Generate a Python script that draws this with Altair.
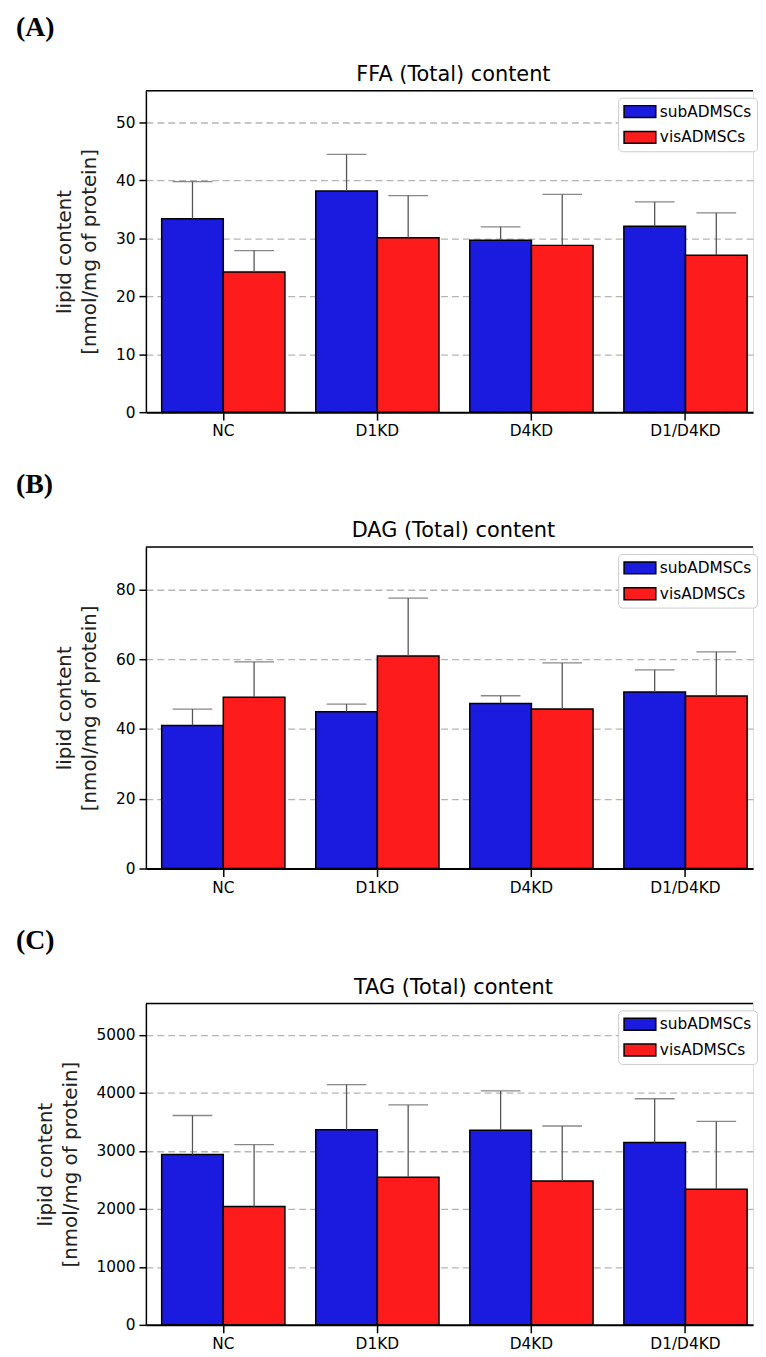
import altair as alt
import pandas as pd

categories = ["NC", "D1KD", "D4KD", "D1/D4KD"]
groups = ["subADMSCs", "visADMSCs"]
bar_colors = ["#1b1bdf", "#fe1b1b"]

# FFA (Total) content
ffa_sub = [33.4, 38.2, 29.7, 32.1]
ffa_sub_err = [6.4, 6.3, 2.3, 4.2]
ffa_vis = [24.2, 30.1, 28.8, 27.1]
ffa_vis_err = [3.7, 7.3, 8.8, 7.3]
ffa_ticks = [0, 10, 20, 30, 40, 50]

# DAG (Total) content
dag_sub = [41.0, 44.9, 47.3, 50.6]
dag_sub_err = [4.7, 2.2, 2.2, 6.3]
dag_vis = [49.1, 60.9, 45.7, 49.4]
dag_vis_err = [10.1, 16.6, 13.2, 12.7]
dag_ticks = [0, 20, 40, 60, 80]

# TAG (Total) content
tag_sub = [2937, 3367, 3356, 3146]
tag_sub_err = [674, 777, 680, 754]
tag_vis = [2041, 2545, 2483, 2341]
tag_vis_err = [1066, 1248, 947, 1168]
tag_ticks = [0, 1000, 2000, 3000, 4000, 5000]

W = 612
H = 324
Y_TITLE = ["lipid content", "[nmol/mg of protein]"]


def panel(letter, title, sub, sub_err, vis, vis_err, ymax, ticks):
    rows = []
    for i, c in enumerate(categories):
        rows.append({"category": c, "group": groups[0], "value": sub[i], "upper": sub[i] + sub_err[i]})
        rows.append({"category": c, "group": groups[1], "value": vis[i], "upper": vis[i] + vis_err[i]})
    df = pd.DataFrame(rows)
    base = alt.Chart(df)

    x = alt.X(
        "category:N",
        sort=categories,
        scale=alt.Scale(paddingInner=0.2, paddingOuter=0.0704, align=0.727),
        axis=alt.Axis(
            title=None, labelAngle=0, domainWidth=2, domainColor="black",
            tickColor="black", tickWidth=1.5, tickSize=8, labelPadding=4,
            labelFont="DejaVu Sans", labelFontSize=15.5, labelColor="black", grid=False,
        ),
    )
    xo = alt.XOffset("group:N", sort=groups, scale=alt.Scale(paddingInner=0, paddingOuter=0))
    yscale = alt.Scale(domain=[0, ymax], nice=False, zero=True)
    yaxis = alt.Axis(
        values=ticks, format="d", title=Y_TITLE, grid=True, gridDash=[7, 4], gridColor="#b5b5b5",
        gridWidth=1.3, domainColor="black", domainWidth=1.5, tickColor="black",
        tickWidth=1.5, tickSize=7, labelPadding=4, labelFont="DejaVu Sans",
        labelFontSize=15.5, labelColor="black", titleFont="DejaVu Sans",
        titleFontSize=20, titleFontWeight="normal", titleColor="#222222",
        titleLineHeight=25, titlePadding=16,
    )

    bars = base.mark_bar(stroke="black", strokeWidth=1.5, opacity=1).encode(
        x=x,
        xOffset=xo,
        y=alt.Y("value:Q", scale=yscale, axis=yaxis, title=Y_TITLE),
        color=alt.Color(
            "group:N", sort=groups,
            scale=alt.Scale(domain=groups, range=bar_colors),
            legend=alt.Legend(
                title=None, orient="none", legendX=476, legendY=7,
                labelFont="DejaVu Sans", labelFontSize=15.5, labelColor="black",
                symbolType="M-1,-0.75H3V0.75H-1Z", symbolSize=256,
                symbolStrokeColor="black", symbolStrokeWidth=1.5, symbolOpacity=1,
                labelOffset=19, rowPadding=8, padding=5,
                strokeColor="#cccccc", fillColor="white", cornerRadius=4,
            ),
        ),
    )
    err = base.mark_rule(color="#555555", strokeWidth=1.3).encode(
        x=x, xOffset=xo,
        y=alt.Y("value:Q", scale=yscale, title=Y_TITLE),
        y2="upper:Q",
    )
    cap = base.mark_tick(color="#555555", thickness=1.3, size=40).encode(
        x=x, xOffset=xo,
        y=alt.Y("upper:Q", scale=yscale, title=Y_TITLE),
    )
    lab_df = pd.DataFrame({"t": [letter], "title": [title]})
    topline = alt.Chart(lab_df).mark_rule(color="black", strokeWidth=1.5).encode(
        x=alt.value(0), x2=alt.value(W), y=alt.value(0)
    )
    label = alt.Chart(lab_df).mark_text(
        font="Liberation Serif", fontSize=28, fontWeight="bold",
        align="left", baseline="alphabetic", color="black",
    ).encode(text="t:N", x=alt.value(-131), y=alt.value(-55))
    ttl = alt.Chart(lab_df).mark_text(
        font="DejaVu Sans", fontSize=21, align="center",
        baseline="alphabetic", color="black",
    ).encode(text="title:N", x=alt.value(W / 2 + 4), y=alt.value(-10))

    return alt.layer(bars, err, cap, topline, label, ttl).properties(width=W, height=H)


pA = panel("(A)", "FFA (Total) content", ffa_sub, ffa_sub_err, ffa_vis, ffa_vis_err, 55.5, ffa_ticks)
pB = panel("(B)", "DAG (Total) content", dag_sub, dag_sub_err, dag_vis, dag_vis_err, 92.1, dag_ticks)
pC = panel("(C)", "TAG (Total) content", tag_sub, tag_sub_err, tag_vis, tag_vis_err, 5544, tag_ticks)

chart = (
    alt.vconcat(pA, pB, pC, spacing=30)
    .resolve_scale(color="independent", y="independent", x="independent")
    .resolve_legend(color="independent")
    .properties(padding={"left": 7, "top": 0, "right": 0, "bottom": 0})
    .configure_view(stroke=None)
    .configure(background="white")
)

chart.save("out.html", embed_options={"renderer": "svg", "actions": False})
